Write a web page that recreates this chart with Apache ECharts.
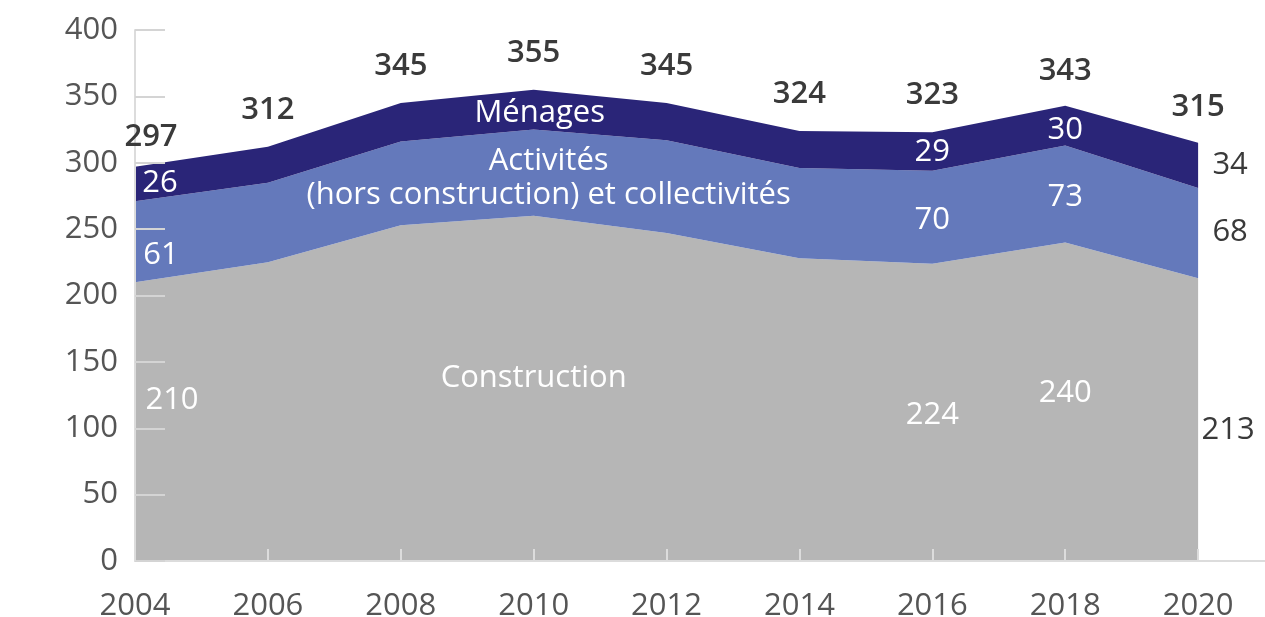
<!DOCTYPE html>
<html>
<head>
<meta charset="utf-8">
<script src="https://cdn.jsdelivr.net/npm/echarts@6/dist/echarts.min.js"></script>
<style>
html, body { margin: 0; background: #fff; }
#chart { width: 1265px; height: 617px; }
</style>
</head>
<body>
<div id="chart"></div>
<script>
// valeurs
var years = ['2004', '2006', '2008', '2010', '2012', '2014', '2016', '2018', '2020'];
var construction = [210, 225, 253, 260, 247, 228, 224, 240, 213];
var activites = [61, 60, 63, 65, 70, 68, 70, 73, 68];
var menages = [26, 27, 29, 30, 28, 28, 29, 30, 34];
var totals = [297, 312, 345, 355, 345, 324, 323, 343, 315];
var names = ['Construction', 'Activités\n(hors construction) et collectivités', 'Ménages'];

var FONT = '"Open Sans", "DejaVu Sans", sans-serif';
var FS = 31;
var DARK = '#3a3a3a';

// étiquettes : index -> [dx, dy, texte?, couleur?]
var lblConstr = { 0: [37, 118], 3: [0, 162, names[0]], 6: [0, 152], 7: [0, 151], 8: [30, 152, null, DARK] };
var lblAct = { 0: [26, 54], 3: [15, 49, names[1]], 6: [0, 49], 7: [0, 52], 8: [32, 44, null, DARK] };
var lblMen = { 0: [25, 16], 3: [6, 23, names[2]], 6: [0, 20], 7: [0, 25], 8: [32, 22, null, DARK] };
var lblTot = { 0: [16, -30], 7: [0, -34], 8: [0, -36] };

function mk(values, spec, defOff, bold) {
	return values.map(function(v, i) {
		var s = spec[i] || (defOff ? defOff : null);
		var item = { value: v };
		if (s) {
			item.label = {
				show: true,
				position: 'inside',
				offset: [s[0], s[1]],
				color: s[3] || (bold ? DARK : '#fff'),
				fontWeight: bold ? 600 : 'normal',
				lineHeight: 34,
				formatter: s[2] ? s[2] : String(v)
			};
		}
		return item;
	});
}

function area(name, values, spec, color) {
	return {
		name: name,
		type: 'line',
		stack: 'total',
		symbol: 'circle',
		symbolSize: 0,
		clip: false,
		lineStyle: { width: 0 },
		itemStyle: { color: color },
		areaStyle: { color: color, opacity: 1 },
		label: { fontFamily: FONT, fontSize: FS },
		emphasis: { disabled: true },
		data: mk(values, spec)
	};
}

var chart = echarts.init(document.getElementById('chart'));
chart.setOption({
	animation: false,
	textStyle: { fontFamily: FONT },
	// l'axe des x déborde à droite : une catégorie vide hors du cadre
	grid: { left: 135, right: -66, top: 30, bottom: 56, containLabel: false, outerBoundsMode: 'none' },
	xAxis: {
		type: 'category',
		boundaryGap: false,
		data: years.concat(['']),
		z: 10,
		splitLine: { show: false },
		axisLine: { show: true, lineStyle: { color: '#dcdcdc', width: 2 } },
		axisTick: { show: true, inside: true, length: 12, interval: 0, lineStyle: { color: '#dcdcdc', width: 2 } },
		axisLabel: { interval: 0, margin: 30, fontSize: FS, color: '#555', fontFamily: FONT }
	},
	yAxis: {
		type: 'value',
		min: 0,
		max: 400,
		interval: 50,
		z: 10,
		splitLine: { show: false },
		axisLine: { show: true, lineStyle: { color: '#dcdcdc', width: 2 } },
		axisTick: { show: true, inside: true, length: 30, lineStyle: { color: '#d4d4d4', width: 2 } },
		axisLabel: { margin: 17, fontSize: FS, color: '#555', fontFamily: FONT }
	},
	series: [
		area('Construction', construction, lblConstr, '#b6b6b6'),
		area('Activités', activites, lblAct, '#6479bb'),
		area('Ménages', menages, lblMen, '#2a2578'),
		{
			name: 'Total',
			type: 'line',
			symbol: 'circle',
			symbolSize: 0,
			clip: false,
			z: 20,
			lineStyle: { width: 0, opacity: 0 },
			label: { fontFamily: FONT, fontSize: FS },
			emphasis: { disabled: true },
			data: mk(totals, lblTot, [0, -37], true)
		}
	]
});
</script>
</body>
</html>
